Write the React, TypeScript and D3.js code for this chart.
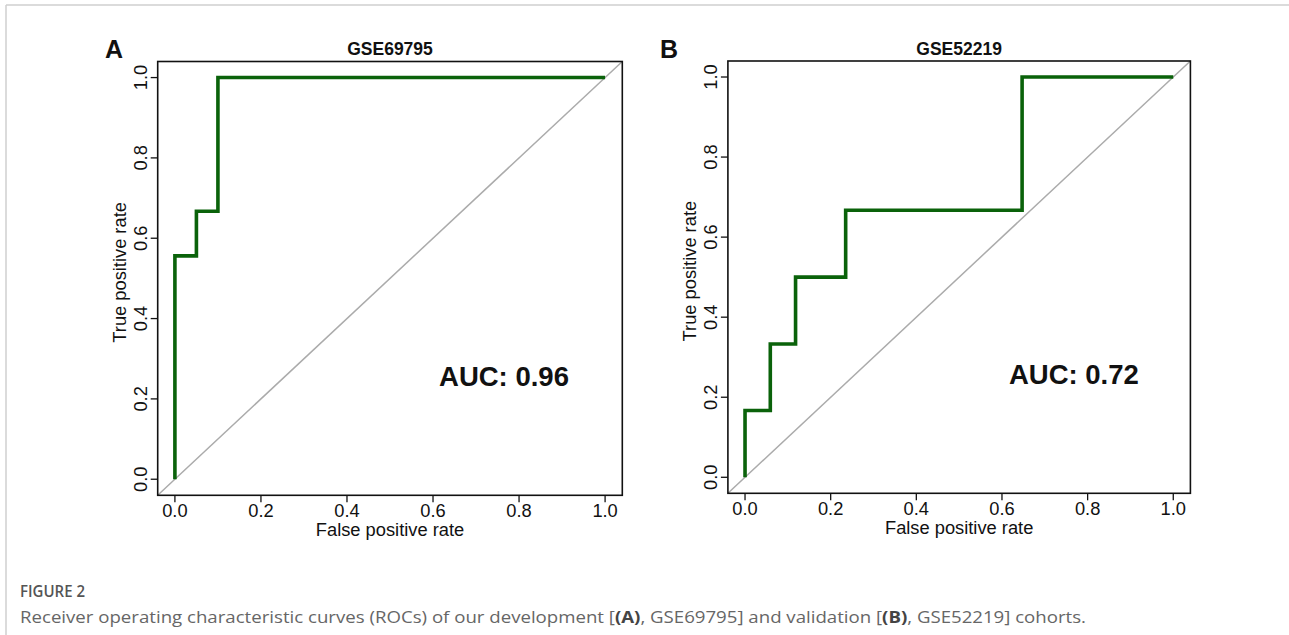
import React from "react";
import * as d3 from "d3";

// ---- data ----
const panelLetters = ["A", "B"];
const panelTitles = ["GSE69795", "GSE52219"];
const aucLabels = ["AUC: 0.96", "AUC: 0.72"];
const fprA = [0, 0, 0.05, 0.05, 0.1, 0.1, 1];
const tprA = [0, 0.556, 0.556, 0.667, 0.667, 1, 1];
const fprB = [0, 0, 0.059, 0.059, 0.118, 0.118, 0.235, 0.235, 0.647, 0.647, 1];
const tprB = [0, 0.167, 0.167, 0.333, 0.333, 0.5, 0.5, 0.667, 0.667, 1, 1];
const ticks = [0, 0.2, 0.4, 0.6, 0.8, 1.0];
const xTitle = "False positive rate";
const yTitle = "True positive rate";
const figLabel = "FIGURE 2";

const W = 1289;
const H = 635;
const FONT = "'Liberation Sans', Arial, Helvetica, sans-serif";

type Box = { l: number; r: number; t: number; b: number; letterX: number; aucX: number };
const boxes: Box[] = [
  { l: 157.7, r: 622.3, t: 61.5, b: 495.3, letterX: 105, aucX: 0.765 },
  { l: 727.9, r: 1190.4, t: 61, b: 493.3, letterX: 660, aucX: 0.768 },
];

function Panel({ i, fpr, tpr }: { i: number; fpr: number[]; tpr: number[] }) {
  const bx = boxes[i];
  const x = d3.scaleLinear().domain([-0.04, 1.04]).range([bx.l, bx.r]);
  const y = d3.scaleLinear().domain([-0.04, 1.04]).range([bx.b, bx.t]);
  const pts: [number, number][] = fpr.map((f, k) => [f, tpr[k]]);
  const line = d3
    .line<[number, number]>()
    .x((d) => x(d[0]))
    .y((d) => y(d[1]));
  const cx = (bx.l + bx.r) / 2;
  const cy = (bx.t + bx.b) / 2;
  const fmt = d3.format(".1f");
  const fs = 18.3;
  return (
    <g>
      <line x1={x(-0.04)} y1={y(-0.04)} x2={x(1.04)} y2={y(1.04)} stroke="#ababab" strokeWidth={1.5} />
      <path d={line(pts) || ""} fill="none" stroke="#0a620a" strokeWidth={3.6} strokeLinejoin="miter" />
      <rect x={bx.l} y={bx.t} width={bx.r - bx.l} height={bx.b - bx.t} fill="none" stroke="#111" strokeWidth={1.6} />
      {ticks.map((t) => (
        <g key={"x" + t}>
          <line x1={x(t)} x2={x(t)} y1={bx.b} y2={bx.b + 7} stroke="#111" strokeWidth={1.3} />
          <text x={x(t)} y={bx.b + 22} textAnchor="middle" fontSize={fs} fontFamily={FONT} fill="#111">
            {fmt(t)}
          </text>
        </g>
      ))}
      {ticks.map((t) => (
        <g key={"y" + t}>
          <line x1={bx.l} x2={bx.l - 7} y1={y(t)} y2={y(t)} stroke="#111" strokeWidth={1.3} />
          <text
            transform={`translate(${bx.l - 11},${y(t)}) rotate(-90)`}
            textAnchor="middle"
            fontSize={fs}
            fontFamily={FONT}
            fill="#111"
          >
            {fmt(t)}
          </text>
        </g>
      ))}
      <text x={cx} y={bx.b + 41} textAnchor="middle" fontSize={fs} fontFamily={FONT} fill="#111">
        {xTitle}
      </text>
      <text
        transform={`translate(${bx.l - 32},${cy - 6}) rotate(-90)`}
        textAnchor="middle"
        fontSize={fs}
        fontFamily={FONT}
        fill="#111"
      >
        {yTitle}
      </text>
      <text x={cx} y={55} textAnchor="middle" fontSize={17.5} fontWeight="bold" fontFamily={FONT} fill="#111">
        {panelTitles[i]}
      </text>
      <text x={bx.letterX} y={58} fontSize={25} fontWeight="bold" fontFamily={FONT} fill="#111">
        {panelLetters[i]}
      </text>
      <text
        x={x(bx.aucX)}
        y={y(0.232)}
        textAnchor="middle"
        fontSize={27.5}
        fontWeight="bold"
        fontFamily={FONT}
        fill="#111"
      >
        {aucLabels[i]}
      </text>
    </g>
  );
}

export default function App() {
  return (
    <div style={{ position: "absolute", left: 0, top: 0 }}>
      <svg width={W} height={H} style={{ display: "block", background: "#fff" }}>
        <rect x={0} y={0} width={W} height={H} fill="#fff" />
        <line x1={6} y1={5} x2={W} y2={5} stroke="#cfcfcf" strokeWidth={1.5} />
        <line x1={6} y1={5} x2={6} y2={H} stroke="#cfcfcf" strokeWidth={1.5} />
        <Panel i={0} fpr={fprA} tpr={tprA} />
        <Panel i={1} fpr={fprB} tpr={tprB} />
        <text
          x={20}
          y={597}
          fontSize={17}
          fontWeight={600}
          fontFamily="'Open Sans', sans-serif"
          fill="#555"
          textLength={65}
          lengthAdjust="spacingAndGlyphs"
        >
          {figLabel}
        </text>
        <text
          x={20}
          y={623}
          fontSize={16}
          fontFamily="'Open Sans', sans-serif"
          fill="#666"
          textLength={1066}
          lengthAdjust="spacingAndGlyphs"
        >
          Receiver operating characteristic curves (ROCs) of our development [<tspan fontWeight="bold" fill="#444">(A)</tspan>, GSE69795] and validation [<tspan fontWeight="bold" fill="#444">(B)</tspan>, GSE52219] cohorts.
        </text>
      </svg>
    </div>
  );
}
